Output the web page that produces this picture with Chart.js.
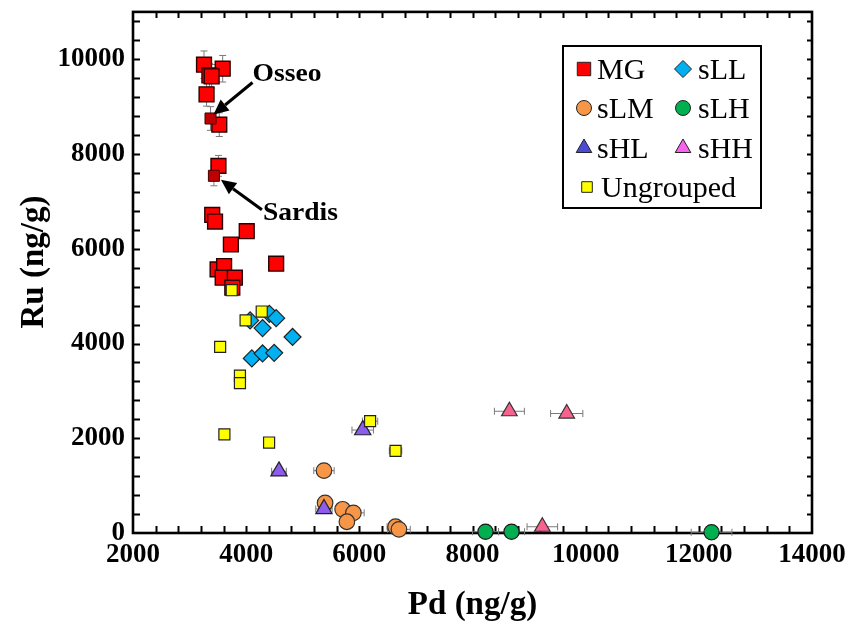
<!DOCTYPE html>
<html>
<head>
<meta charset="utf-8">
<script src="https://cdn.jsdelivr.net/npm/chart.js@4.4.1/dist/chart.umd.min.js"></script>
<style>
  html, body { margin: 0; padding: 0; background: #fff; }
  #wrap { width: 852px; height: 628px; }
</style>
</head>
<body>
<div id="wrap"><canvas id="chart" width="852" height="628"></canvas></div>
<script>
// Pd vs Ru (ng/g) by group, with analytical uncertainties
const mgPd    = [3255, 3585, 3350, 3390, 3300, 3525, 3510, 3400, 3450, 4010, 3730, 4530, 3495, 3610, 3585, 3800, 3755];
const mgRu    = [9885, 9800, 9660, 9640, 9260, 8620, 7750, 6715, 6575, 6370, 6090, 5685, 5565, 5636, 5390, 5390, 5180];
const mgPdErr = [0, 0, 0, 0, 0, 0, 0, 60, 0, 80, 60, 90, 0, 60, 0, 60, 0];
const mgRuErr = [290, 280, 250, 250, 250, 250, 220, 120, 120, 120, 120, 100, 100, 100, 100, 100, 100];

// Osseo and Sardis (MG, named on the plot)
const namedPd    = [3370, 3430];
const namedRu    = [8750, 7540];
const namedRuErr = [250, 210];
const namedText  = ['Osseo', 'Sardis'];

const sllPd = [4070, 4410, 4530, 4290, 4820, 4100, 4290, 4495];
const sllRu = [4487, 4626, 4535, 4326, 4138, 3685, 3790, 3803];

const slmPd    = [5375, 5395, 5705, 5895, 5780, 6640, 6700];
const slmRu    = [1317, 634, 500, 425, 237, 132, 77];
const slmPdErr = [180, 120, 0, 190, 0, 150, 200];

const slhPd    = [8230, 8690, 12225];
const slhRu    = [27, 27, 15];
const slhPdErr = [230, 230, 360];

const shlPd    = [6060, 4580, 5375];
const shlRu    = [2173, 1303, 508];
const shlPdErr = [190, 130, 145];

const shhPd    = [8652, 9665, 9234];
const shhRu    = [2570, 2522, 132];
const shhPdErr = [265, 285, 270];

const ungPd    = [3745, 4275, 3990, 3540, 3890, 3890, 3615, 4405, 6190, 6640];
const ungRu    = [5125, 4675, 4487, 3930, 3323, 3162, 2083, 1910, 2360, 1735];
const ungPdErr = [0, 0, 0, 0, 0, 0, 0, 0, 135, 110];

const xTicks = [2000, 4000, 6000, 8000, 10000, 12000, 14000];
const yTicks = [0, 2000, 4000, 6000, 8000, 10000];
const xMinorStep = 400, yMinorStep = 400;

const SERIF = '"Liberation Serif", "Times New Roman", serif';

const pts = (xs, ys) => xs.map((v, i) => ({ x: v, y: ys[i] }));

const datasets = [
  { label: 'MG', data: pts(mgPd, mgRu), xErr: mgPdErr, yErr: mgRuErr,
    pointStyle: 'rect', pointRadius: 10.5, backgroundColor: '#FF0000', borderColor: '#2a0000', borderWidth: 1.4, order: 3 },
  { label: 'sLL', data: pts(sllPd, sllRu),
    pointStyle: 'rectRot', pointRadius: 8.5, backgroundColor: '#00B0F0', borderColor: '#222', borderWidth: 1.2, order: 3 },
  { label: 'sLM', data: pts(slmPd, slmRu), xErr: slmPdErr,
    pointStyle: 'circle', pointRadius: 7.8, backgroundColor: '#F79646', borderColor: '#333', borderWidth: 1.2, order: 4 },
  { label: 'sLH', data: pts(slhPd, slhRu), xErr: slhPdErr,
    pointStyle: 'circle', pointRadius: 7.6, backgroundColor: '#00B050', borderColor: '#1a1a1a', borderWidth: 1.2, order: 4 },
  { label: 'sHL', data: pts(shlPd, shlRu), xErr: shlPdErr, legendColor: '#4B4BD6',
    pointStyle: 'triangle', pointRadius: 9.4, backgroundColor: '#8C5CEA', borderColor: '#222', borderWidth: 1.2, order: 1 },
  { label: 'sHH', data: pts(shhPd, shhRu), xErr: shhPdErr, legendColor: '#F763EE',
    pointStyle: 'triangle', pointRadius: 9, backgroundColor: '#F7628F', borderColor: '#333', borderWidth: 1.2, order: 1 },
  { label: 'Ungrouped', data: pts(ungPd, ungRu), xErr: ungPdErr,
    pointStyle: 'rect', pointRadius: 7.8, backgroundColor: '#FFFF00', borderColor: '#222', borderWidth: 1.2, order: 0 },
  { label: 'MG named', data: pts(namedPd, namedRu), yErr: namedRuErr, noLegend: true,
    pointStyle: 'rect', pointRadius: 7.8, backgroundColor: '#C00000', borderColor: '#400000', borderWidth: 1, order: 2 }
];

// bold serif text, optionally rotated or widened
function boldText(ctx, text, x, y, align, size, stretch, rotate) {
  ctx.save();
  ctx.translate(x, y);
  if (rotate) ctx.rotate(-Math.PI / 2);
  ctx.scale(stretch, 1);
  ctx.font = 'bold ' + size + 'px ' + SERIF;
  ctx.textAlign = align;
  ctx.textBaseline = 'middle';
  ctx.fillStyle = '#000';
  ctx.fillText(text, 0, 0);
  ctx.restore();
}

// box frame with inward minor ticks on all four sides, plus axis labels
const frame = {
  id: 'frame',
  beforeDatasetsDraw(chart) {
    const { ctx, chartArea: a, scales: { x, y } } = chart;
    ctx.save();
    ctx.strokeStyle = '#000';
    ctx.lineWidth = 2;
    ctx.beginPath();
    for (let v = x.min + xMinorStep; v < x.max; v += xMinorStep) {
      const px = Math.round(x.getPixelForValue(v)) + 0.5;
      ctx.moveTo(px, a.bottom); ctx.lineTo(px, a.bottom - 7);
      ctx.moveTo(px, a.top); ctx.lineTo(px, a.top + 6);
    }
    for (let v = y.min + yMinorStep; v < y.max; v += yMinorStep) {
      const py = Math.round(y.getPixelForValue(v)) + 0.5;
      ctx.moveTo(a.left, py); ctx.lineTo(a.left + 7, py);
      ctx.moveTo(a.right, py); ctx.lineTo(a.right - 5, py);
    }
    ctx.stroke();
    ctx.lineWidth = 2.6;
    ctx.strokeRect(a.left, a.top, a.right - a.left, a.bottom - a.top);
    ctx.restore();

    xTicks.forEach(v => boldText(ctx, String(v), x.getPixelForValue(v), a.bottom + 22, 'center', 27, 1));
    yTicks.forEach(v => boldText(ctx, String(v), a.left - 8, y.getPixelForValue(v), 'right', 27, 1));
    boldText(ctx, 'Pd (ng/g)', (a.left + a.right) / 2, 605, 'center', 33, 1);
    boldText(ctx, 'Ru (ng/g)', 34, 262, 'center', 33, 1, true);
  }
};

// horizontal / vertical error bars behind the markers
const errorBars = {
  id: 'errorBars',
  beforeDatasetsDraw(chart) {
    const { ctx, scales: { x, y } } = chart;
    ctx.save();
    ctx.strokeStyle = '#7a7a7a';
    ctx.lineWidth = 1;
    ctx.beginPath();
    chart.data.datasets.forEach(ds => {
      ds.data.forEach((p, i) => {
        const px = x.getPixelForValue(p.x), py = y.getPixelForValue(p.y);
        const ex = ds.xErr ? ds.xErr[i] : 0;
        const ey = ds.yErr ? ds.yErr[i] : 0;
        if (ex) {
          const l = x.getPixelForValue(p.x - ex), r = x.getPixelForValue(p.x + ex);
          ctx.moveTo(l, py); ctx.lineTo(r, py);
          ctx.moveTo(l, py - 3.5); ctx.lineTo(l, py + 3.5);
          ctx.moveTo(r, py - 3.5); ctx.lineTo(r, py + 3.5);
        }
        if (ey) {
          const t = y.getPixelForValue(p.y + ey), b = y.getPixelForValue(p.y - ey);
          ctx.moveTo(px, t); ctx.lineTo(px, b);
          ctx.moveTo(px - 3.5, t); ctx.lineTo(px + 3.5, t);
          ctx.moveTo(px - 3.5, b); ctx.lineTo(px + 3.5, b);
        }
      });
    });
    ctx.stroke();
    ctx.restore();
  }
};

function arrow(ctx, x0, y0, x1, y1) {
  const ang = Math.atan2(y1 - y0, x1 - x0), len = 15, half = 7;
  const bx = x1 - len * Math.cos(ang), by = y1 - len * Math.sin(ang);
  ctx.beginPath();
  ctx.moveTo(x0, y0); ctx.lineTo(bx, by);
  ctx.stroke();
  ctx.beginPath();
  ctx.moveTo(x1, y1);
  ctx.lineTo(bx + half * Math.sin(ang), by - half * Math.cos(ang));
  ctx.lineTo(bx - half * Math.sin(ang), by + half * Math.cos(ang));
  ctx.closePath();
  ctx.fill();
}

// "Osseo" / "Sardis" callouts, placed relative to their points
const callouts = {
  id: 'callouts',
  afterDatasetsDraw(chart) {
    const { ctx, scales: { x, y } } = chart;
    const offs = [
      { head: [3, -4], tail: [42, -36], text: [42, -44] },
      { head: [7, 4], tail: [48, 34], text: [49, 37] }
    ];
    ctx.save();
    ctx.fillStyle = '#000';
    ctx.strokeStyle = '#000';
    ctx.lineWidth = 3;
    namedPd.forEach((v, i) => {
      const px = x.getPixelForValue(v), py = y.getPixelForValue(namedRu[i]);
      const o = offs[i];
      arrow(ctx, px + o.tail[0], py + o.tail[1], px + o.head[0], py + o.head[1]);
      boldText(ctx, namedText[i], px + o.text[0], py + o.text[1], 'left', 26, 1.06);
    });
    ctx.restore();
  }
};

function marker(ctx, style, cx, cy, r) {
  ctx.beginPath();
  if (style === 'rect') {
    const h = r * Math.SQRT1_2;
    ctx.rect(cx - h, cy - h, 2 * h, 2 * h);
  } else if (style === 'rectRot') {
    ctx.moveTo(cx, cy - r); ctx.lineTo(cx + r, cy); ctx.lineTo(cx, cy + r); ctx.lineTo(cx - r, cy);
    ctx.closePath();
  } else if (style === 'triangle') {
    ctx.moveTo(cx, cy - r);
    ctx.lineTo(cx + r * 0.866, cy + r * 0.5);
    ctx.lineTo(cx - r * 0.866, cy + r * 0.5);
    ctx.closePath();
  } else {
    ctx.arc(cx, cy, r, 0, Math.PI * 2);
  }
  ctx.fill();
  ctx.stroke();
}

// boxed two-column legend in the upper right
const boxLegend = {
  id: 'boxLegend',
  afterDraw(chart) {
    const { ctx } = chart;
    const items = chart.data.datasets.filter(d => !d.noLegend);
    const box = { x: 563, y: 46, w: 198, h: 162 };
    const cols = [584, 683], textCols = [597, 698], rowY = [69, 108, 148], rowH = 39;
    const sizes = { rect: 9.5, rectRot: 8.5, circle: 7.5, triangle: 9 };
    ctx.save();
    ctx.fillStyle = '#fff';
    ctx.fillRect(box.x, box.y, box.w, box.h);
    ctx.strokeStyle = '#000';
    ctx.lineWidth = 2;
    ctx.strokeRect(box.x, box.y, box.w, box.h);
    ctx.font = '30px ' + SERIF;
    ctx.textBaseline = 'middle';
    items.forEach((d, i) => {
      let mx, tx, my;
      if (i < 6) {
        mx = cols[i % 2]; tx = textCols[i % 2]; my = rowY[Math.floor(i / 2)];
      } else {
        mx = 587; tx = 601; my = rowY[2] + rowH;
      }
      ctx.fillStyle = d.legendColor || d.backgroundColor;
      ctx.strokeStyle = '#222';
      ctx.lineWidth = 1;
      const r = i === 6 ? 7.5 : sizes[d.pointStyle];
      marker(ctx, d.pointStyle, mx, my, r);
      ctx.fillStyle = '#000';
      ctx.fillText(d.label, tx, my + 2);
    });
    ctx.restore();
  }
};

new Chart(document.getElementById('chart'), {
  type: 'scatter',
  data: { datasets },
  plugins: [frame, errorBars, callouts, boxLegend],
  options: {
    responsive: false,
    animation: false,
    events: [],
    layout: { padding: { top: 7, right: 40, bottom: 0, left: 0 } },
    datasets: { scatter: { clip: false } },
    plugins: {
      legend: { display: false },
      tooltip: { enabled: false }
    },
    scales: {
      x: {
        type: 'linear',
        min: 2000,
        max: 14000,
        ticks: { display: false },
        grid: { display: false, drawTicks: false },
        border: { display: false },
        afterFit(s) { s.height = 95; }
      },
      y: {
        type: 'linear',
        min: 0,
        max: 11000,
        ticks: { display: false },
        grid: { display: false, drawTicks: false },
        border: { display: false },
        afterFit(s) { s.width = 133; }
      }
    }
  }
});
</script>
</body>
</html>
